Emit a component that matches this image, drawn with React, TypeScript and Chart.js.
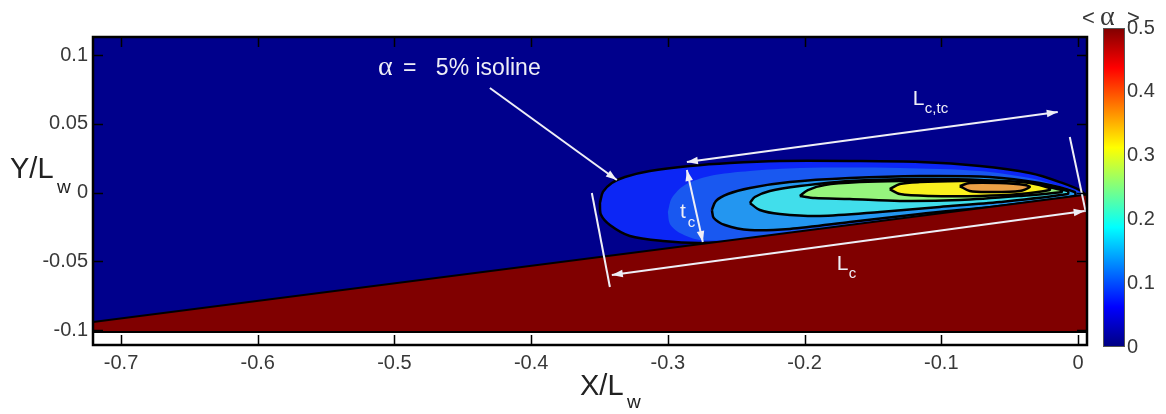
import React, { useEffect, useRef } from "react";
import { Chart, registerables } from "chart.js";

Chart.register(...registerables);

// ---------- axis ranges ----------
const X_MIN = -0.7205;
const X_MAX = 0.0066;
const Y_MIN = -0.1109;
const Y_MAX = 0.1131;
const DATA_BOTTOM = -0.1015;

// ---------- ticks ----------
const xTicks = [-0.7, -0.6, -0.5, -0.4, -0.3, -0.2, -0.1, 0];
const xTickLabels = ["-0.7", "-0.6", "-0.5", "-0.4", "-0.3", "-0.2", "-0.1", "0"];
const yTicks = [-0.1, -0.05, 0, 0.05, 0.1];
const yTickLabels = ["-0.1", "-0.05", "0", "0.05", "0.1"];
const cbTicks = [0, 0.1, 0.2, 0.3, 0.4, 0.5];
const cbTickLabels = ["0", "0.1", "0.2", "0.3", "0.4", "0.5"];
const CB_MAX = 0.5;

// ---------- wall (foil surface) ----------
const wallX = [-0.7205, 0.0066];
const wallY = [-0.0941, -0.0014];

// ---------- contour levels (alpha) and their outlines ----------
const levels = [0.05, 0.1, 0.15, 0.2, 0.25, 0.3, 0.35];

const c05X = [-0.3497, -0.3475, -0.341, -0.3314, -0.3132, -0.2839, -0.2547, -0.2181, -0.1669, -0.1157, -0.0718, -0.0353, -0.0133, 0.0035, 0.0035, -0.1303, -0.2473, -0.2766, -0.3037, -0.3278, -0.3424, -0.349];
const c05Y = [-0.0076, 0.0004, 0.0069, 0.0113, 0.0156, 0.0193, 0.0215, 0.0229, 0.0229, 0.0222, 0.0193, 0.0142, 0.0076, 0.0004, -0.004, -0.0205, -0.035, -0.0367, -0.0353, -0.0316, -0.0236, -0.016];

const c10X = [-0.3, -0.2971, -0.2876, -0.2693, -0.24, -0.2035, -0.1303, -0.0718, -0.0353, -0.0133, 0.0013, 0.0013, -0.1303, -0.2035, -0.2473, -0.2766, -0.2912, -0.2985];
const c10Y = [-0.0142, -0.004, 0.0055, 0.012, 0.0156, 0.0178, 0.0178, 0.0156, 0.0105, 0.0047, 0.0, -0.004, -0.0205, -0.029, -0.034, -0.0345, -0.0295, -0.0229];

const c15X = [-0.2678, -0.2649, -0.2561, -0.24, -0.2108, -0.1669, -0.1157, -0.0645, -0.028, -0.0024, -0.0024, -0.0572, -0.1157, -0.1669, -0.2108, -0.24, -0.2583, -0.2664];
const c15Y = [-0.0127, -0.0062, -0.0011, 0.0033, 0.0076, 0.0105, 0.012, 0.0113, 0.0069, 0.0004, -0.0025, -0.0098, -0.0156, -0.0215, -0.0265, -0.0273, -0.0236, -0.0185];

const c20X = [-0.24, -0.2364, -0.2254, -0.2035, -0.1669, -0.1157, -0.0718, -0.028, -0.0075, -0.0075, -0.0572, -0.1011, -0.145, -0.1888, -0.2181, -0.2327];
const c20Y = [-0.0076, -0.0033, 0.0011, 0.0047, 0.0084, 0.0098, 0.0091, 0.0055, 0.0011, -0.0011, -0.0069, -0.0105, -0.0142, -0.0171, -0.0156, -0.0127];

const c25X = [-0.2035, -0.1976, -0.1852, -0.1596, -0.1303, -0.0938, -0.0572, -0.028, -0.0119, -0.0119, -0.0426, -0.0865, -0.1303, -0.1669, -0.1925];
const c25Y = [-0.0025, 0.0018, 0.0055, 0.0076, 0.0084, 0.0084, 0.0076, 0.0047, 0.0018, 0.0004, -0.0025, -0.0055, -0.0062, -0.0047, -0.004];

const c30X = [-0.1377, -0.1303, -0.1157, -0.0865, -0.0572, -0.0353, -0.0207, -0.0207, -0.0426, -0.0718, -0.1084, -0.1303];
const c30Y = [0.0025, 0.0062, 0.0076, 0.0084, 0.0084, 0.0069, 0.0033, 0.0018, -0.0011, -0.0025, -0.0025, -0.0011];

const c35X = [-0.0865, -0.0792, -0.0572, -0.0389, -0.0353, -0.0426, -0.0645, -0.0792];
const c35Y = [0.0047, 0.0069, 0.0069, 0.0055, 0.004, 0.0011, 0.0004, 0.0011];

const contourXs = [c05X, c10X, c15X, c20X, c25X, c30X, c35X];
const contourYs = [c05Y, c10Y, c15Y, c20Y, c25Y, c30Y, c35Y];

// ---------- annotations (data coordinates) ----------
const arrowNames = ["isoline", "Lctc", "Lc", "tc", "leftMark", "rightMark"];
const arrowX1 = [-0.4302, -0.2861, -0.341, -0.2861, -0.3556, -0.006];
const arrowY1 = [0.076, 0.0222, -0.06, 0.0164, -0.0004, 0.0404];
const arrowX2 = [-0.3373, -0.0148, 0.0049, -0.2744, -0.3424, 0.0057];
const arrowY2 = [0.0091, 0.0585, -0.0135, -0.036, -0.0687, -0.0142];
const arrowHeads = ["end", "both", "both", "both", "none", "none"];

const labelTexts = ["α", "=", "5% isoline", "L", "c,tc", "t", "c", "L", "c"];
const labelX = [-0.5121, -0.4938, -0.4697, -0.1208, -0.112, -0.2912, -0.2854, -0.1764, -0.1676];
const labelY = [0.0855, 0.0855, 0.0855, 0.0636, 0.0578, -0.0185, -0.0251, -0.0564, -0.0622];

// ---------- styles ----------
const FONT = "'Liberation Sans', Arial, Helvetica, sans-serif";
const SERIF = "'Liberation Serif', 'Times New Roman', serif";
const BG_BLUE = "rgb(0,0,140)";
const WALL_RED = "rgb(128,0,0)";
const contourColors = [
  "rgb(12,38,245)",
  "rgb(25,88,240)",
  "rgb(35,150,240)",
  "rgb(65,222,235)",
  "rgb(150,245,125)",
  "rgb(250,240,30)",
  "rgb(235,160,70)",
];
const WHITE = "rgb(238,238,246)";
const labelFonts = [
  `28px ${SERIF}`,
  `23px ${FONT}`,
  `23px ${FONT}`,
  `21px ${FONT}`,
  `15px ${FONT}`,
  `21px ${FONT}`,
  `15px ${FONT}`,
  `21px ${FONT}`,
  `15px ${FONT}`,
];

const pts = (xs: number[], ys: number[], close = true) => {
  const p = xs.map((x, i) => ({ x, y: ys[i] }));
  if (close) p.push({ x: xs[0], y: ys[0] });
  return p;
};

function jetGradient(ctx: CanvasRenderingContext2D, yBottom: number, yTop: number) {
  const g = ctx.createLinearGradient(0, yBottom, 0, yTop);
  g.addColorStop(0, "rgb(0,0,128)");
  g.addColorStop(0.125, "rgb(0,0,255)");
  g.addColorStop(0.375, "rgb(0,255,255)");
  g.addColorStop(0.625, "rgb(255,255,0)");
  g.addColorStop(0.875, "rgb(255,0,0)");
  g.addColorStop(1, "rgb(128,0,0)");
  return g;
}

function drawHead(ctx: CanvasRenderingContext2D, xt: number, yt: number, xf: number, yf: number) {
  const ang = Math.atan2(yt - yf, xt - xf);
  const L = 11;
  const W = 3.8;
  const c = Math.cos(ang);
  const s = Math.sin(ang);
  ctx.beginPath();
  ctx.moveTo(xt, yt);
  ctx.lineTo(xt - L * c + W * s, yt - L * s - W * c);
  ctx.lineTo(xt - L * c - W * s, yt - L * s + W * c);
  ctx.closePath();
  ctx.fill();
}

const overlayPlugin = {
  id: "overlay",
  afterDatasetsDraw(chart: any) {
    const { ctx, scales } = chart;
    const xs = scales.x;
    const ys = scales.y;
    ctx.save();
    ctx.fillStyle = WHITE;
    arrowNames.forEach((_, i) => {
      const x1 = xs.getPixelForValue(arrowX1[i]);
      const y1 = ys.getPixelForValue(arrowY1[i]);
      const x2 = xs.getPixelForValue(arrowX2[i]);
      const y2 = ys.getPixelForValue(arrowY2[i]);
      if (arrowHeads[i] === "end" || arrowHeads[i] === "both") drawHead(ctx, x2, y2, x1, y1);
      if (arrowHeads[i] === "both") drawHead(ctx, x1, y1, x2, y2);
    });
    ctx.textAlign = "left";
    ctx.textBaseline = "alphabetic";
    labelTexts.forEach((t, i) => {
      ctx.font = labelFonts[i];
      ctx.fillText(t, xs.getPixelForValue(labelX[i]), ys.getPixelForValue(labelY[i]));
    });
    ctx.restore();
  },
  afterDraw(chart: any) {
    const { ctx, chartArea: a, scales } = chart;
    const xs = scales.x;
    const ys = scales.y;
    ctx.save();
    // ticks (inward)
    ctx.strokeStyle = "#000";
    ctx.lineWidth = 1.5;
    const TL = 10;
    xTicks.forEach((v) => {
      const px = Math.round(xs.getPixelForValue(v)) + 0.5;
      ctx.beginPath();
      ctx.moveTo(px, a.bottom);
      ctx.lineTo(px, a.bottom - TL);
      ctx.moveTo(px, a.top);
      ctx.lineTo(px, a.top + TL);
      ctx.stroke();
    });
    yTicks.forEach((v) => {
      const py = Math.round(ys.getPixelForValue(v)) + 0.5;
      ctx.beginPath();
      ctx.moveTo(a.left, py);
      ctx.lineTo(a.left + TL, py);
      ctx.moveTo(a.right, py);
      ctx.lineTo(a.right - TL, py);
      ctx.stroke();
    });
    // box
    ctx.lineWidth = 2.5;
    ctx.strokeRect(a.left, a.top, a.right - a.left, a.bottom - a.top);

    // axis titles
    ctx.fillStyle = "#222";
    ctx.textAlign = "left";
    ctx.textBaseline = "alphabetic";
    ctx.font = `29px ${FONT}`;
    ctx.fillText("Y/L", a.left - 83, a.top + 141);
    ctx.font = `19px ${FONT}`;
    ctx.fillText("w", a.left - 36, a.top + 156);
    ctx.font = `29px ${FONT}`;
    ctx.fillText("X/L", a.left + 487, a.bottom + 50);
    ctx.font = `19px ${FONT}`;
    ctx.fillText("w", a.left + 534, a.bottom + 63);

    // colorbar
    const cbL = a.right + 16;
    const cbR = a.right + 38;
    const cbT = a.top - 9;
    const cbB = a.bottom + 2;
    ctx.fillStyle = jetGradient(ctx, cbB, cbT);
    ctx.fillRect(cbL, cbT, cbR - cbL, cbB - cbT);
    ctx.lineWidth = 1;
    ctx.strokeStyle = "#555";
    ctx.strokeRect(cbL + 0.5, cbT + 0.5, cbR - cbL - 1, cbB - cbT - 1);
    ctx.fillStyle = "#383838";
    ctx.font = `20px ${FONT}`;
    ctx.textBaseline = "middle";
    cbTicks.forEach((v, i) => {
      const py = cbB - (v / CB_MAX) * (cbB - cbT);
      ctx.fillText(cbTickLabels[i], cbR + 2, py);
    });
    // colorbar title  < α >
    ctx.textBaseline = "alphabetic";
    ctx.font = `22px ${FONT}`;
    ctx.fillText("<", cbL - 21, 25);
    ctx.font = `28px ${SERIF}`;
    ctx.fillText("α", cbL - 3, 25);
    ctx.font = `22px ${FONT}`;
    ctx.fillText(">", cbL + 24, 25);
    ctx.restore();
  },
};

export default function App() {
  const ref = useRef<HTMLCanvasElement | null>(null);

  useEffect(() => {
    if (!ref.current) return;
    const datasets: any[] = [];
    // domain background
    datasets.push({
      label: "domain",
      data: pts([X_MIN, X_MAX, X_MAX, X_MIN], [DATA_BOTTOM, DATA_BOTTOM, Y_MAX, Y_MAX]),
      showLine: true,
      fill: "shape",
      backgroundColor: BG_BLUE,
      borderWidth: 0,
      borderColor: BG_BLUE,
      pointRadius: 0,
      order: 100,
    });
    // contours
    levels.forEach((lv, i) => {
      datasets.push({
        label: `alpha ${lv}`,
        data: pts(contourXs[i], contourYs[i]),
        showLine: true,
        fill: "shape",
        backgroundColor: contourColors[i],
        borderColor: i === 1 ? "rgba(0,0,0,0)" : "#000",
        borderWidth: 2.5,
        borderJoinStyle: "round",
        tension: 0.3,
        pointRadius: 0,
        order: 90 - i,
      });
    });
    // wall (solid region)
    datasets.push({
      label: "wall",
      data: pts([wallX[0], wallX[1], wallX[1], wallX[0]], [wallY[0], wallY[1], DATA_BOTTOM, DATA_BOTTOM]),
      showLine: true,
      fill: "shape",
      backgroundColor: WALL_RED,
      borderColor: "#000",
      borderWidth: 2,
      pointRadius: 0,
      order: 50,
    });
    // annotation lines
    arrowNames.forEach((n, i) => {
      datasets.push({
        label: n,
        data: [
          { x: arrowX1[i], y: arrowY1[i] },
          { x: arrowX2[i], y: arrowY2[i] },
        ],
        showLine: true,
        fill: false,
        borderColor: WHITE,
        borderWidth: 2,
        pointRadius: 0,
        order: 10,
      });
    });

    const chart = new Chart(ref.current, {
      type: "scatter",
      data: { datasets },
      options: {
        animation: false,
        responsive: false,
        devicePixelRatio: 1,
        events: [],
        layout: { padding: { left: 0, top: 37, right: 79, bottom: 0 } },
        plugins: { legend: { display: false }, tooltip: { enabled: false } },
        scales: {
          x: {
            type: "linear",
            min: X_MIN,
            max: X_MAX,
            grid: { display: false, drawTicks: false },
            border: { display: false },
            afterBuildTicks: (s: any) => {
              s.ticks = xTicks.map((v) => ({ value: v }));
            },
            afterFit: (s: any) => {
              s.height = 69;
            },
            ticks: {
              autoSkip: false,
              maxRotation: 0,
              padding: 6,
              color: "#383838",
              font: { family: FONT, size: 20 },
              callback: (_v: any, i: number) => xTickLabels[i],
            },
          },
          y: {
            type: "linear",
            min: Y_MIN,
            max: Y_MAX,
            grid: { display: false, drawTicks: false },
            border: { display: false },
            afterBuildTicks: (s: any) => {
              s.ticks = yTicks.map((v) => ({ value: v }));
            },
            afterFit: (s: any) => {
              s.width = 93;
            },
            ticks: {
              autoSkip: false,
              padding: 5,
              color: "#383838",
              font: { family: FONT, size: 20 },
              callback: (_v: any, i: number) => yTickLabels[i],
            },
          },
        },
      } as any,
      plugins: [overlayPlugin],
    });
    return () => chart.destroy();
  }, []);

  return (
    <div style={{ position: "fixed", left: 0, top: 0, width: 1166, height: 414, background: "#fff" }}>
      <canvas ref={ref} width={1166} height={414} style={{ display: "block", width: 1166, height: 414 }} />
    </div>
  );
}
